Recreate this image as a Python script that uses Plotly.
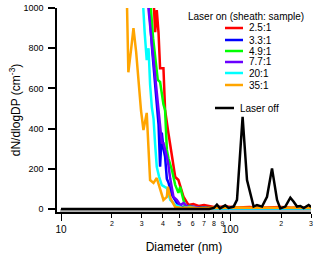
import plotly.graph_objects as go

# sheath:sample ratios, laser on
labels_on = ["2.5:1", "3.3:1", "4.9:1", "7.7:1", "20:1", "35:1"]
colors_on = ["#ff0000", "#0000ff", "#00ff00", "#6a00ff", "#00ffff", "#ffa500"]

d_red = [33.5, 35.2, 36.0, 36.8, 37.7, 38.5, 40.3, 41.2, 43.1, 45.2, 47.3, 49.4, 52.9, 56.6, 60.5, 65, 70, 80, 95, 110, 130, 150, 175, 200, 230, 260, 300]
v_red = [1800, 1050, 880, 990, 875, 700, 700, 493, 378, 259, 159, 144, 61, 20, 25, 15, 20, 10, 12, 8, 10, 6, 8, 10, 6, 8, 5]

d_blue = [31.5, 32.9, 34.5, 36.0, 36.8, 37.7, 38.5, 39.4, 40.3, 41.2, 42.2, 43.2, 45.2, 47.3, 49.2, 52, 56, 62, 70, 80, 100, 130, 170, 220, 300]
v_blue = [1800, 1050, 800, 620, 560, 420, 210, 380, 300, 260, 150, 130, 70, 45, 20, 10, 15, 5, 8, 3, 4, 3, 2, 3, 2]

d_green = [32, 33.6, 35, 36.2, 37.3, 38.5, 39.4, 40.3, 41.2, 42.2, 43.2, 45.2, 47.3, 49.4, 50.6, 52.5, 54.2, 58, 64, 72, 85, 110, 150, 200, 300]
v_green = [1800, 1050, 850, 720, 642, 632, 560, 520, 493, 294, 250, 194, 120, 80, 110, 60, 10, 15, 6, 5, 4, 3, 3, 2, 2]

d_purple = [31, 32.4, 34, 35.5, 36.8, 37.7, 38.5, 39.4, 40.3, 41.2, 42.2, 43.1, 44.2, 46.2, 48.3, 50.6, 53, 56, 60, 66, 75, 90, 120, 160, 220, 300]
v_purple = [1800, 1050, 870, 720, 600, 493, 420, 330, 328, 300, 260, 220, 150, 60, 45, 20, 30, 10, 12, 5, 4, 3, 3, 2, 2, 2]

d_cyan = [29, 30.4, 31.2, 32.1, 32.9, 33.6, 34.4, 35.2, 36.0, 36.8, 38.0, 39.4, 41.0, 42.2, 44.2, 47.3, 52, 58, 65, 80, 100, 140, 200, 300]
v_cyan = [1800, 1050, 880, 741, 800, 620, 507, 450, 320, 210, 160, 119, 110, 104, 45, 20, 5, 8, 3, 3, 2, 4, 2, 2]

d_orange = [23.5, 24.6, 25.0, 26.0, 26.8, 27.8, 28.7, 29.7, 30.7, 32.1, 33.6, 35.2, 36.8, 38.5, 40.3, 42.2, 42.8, 44.5, 47.3, 52, 58, 65, 75, 90, 110, 130, 160, 200, 250, 300]
v_orange = [1800, 1050, 680, 800, 900, 780, 640, 490, 393, 478, 144, 130, 154, 104, 45, 60, 111, 50, 10, 5, 8, 4, 6, 5, 8, 6, 7, 8, 6, 5]

# laser off
d_off = [10, 20, 40, 60, 75, 80, 83.4, 87, 93.4, 97.7, 104.7, 109.6, 118.3, 125.6, 137.4, 143.9, 154.1, 164.9, 176.5, 189, 197.6, 211.5, 226.5, 237, 248, 259.6, 271.6, 290.6, 301]
v_off = [0, 0, 0, 0, 0, 5, 22, 3, 18, 5, 12, 45, 459, 144, 12, 20, 12, 61, 202, 45, 3, 12, 56, 36, 12, 15, 5, 20, 10]

minor_vals = [20, 30, 40, 50, 60, 70, 80, 90, 200, 300]
minor_text = ["2", "3", "4", "5", "6", "7", "8", "9", "2", "3"]
major_vals = [10, 100]
major_text = ["10", "100"]
y_ticks = [0, 200, 400, 600, 800, 1000]

FONT = "Liberation Sans, Arial, sans-serif"
W, H = 320, 255
L, R, T, B = 57, 9, 8, 43

def px(x):
    return (x - L) / (W - L - R)

def py(y):
    return (H - B - y) / (H - T - B)

series_on = [(d_red, v_red), (d_blue, v_blue), (d_green, v_green),
             (d_purple, v_purple), (d_cyan, v_cyan), (d_orange, v_orange)]

fig = go.Figure()
for (d, v), name, c in zip(series_on, labels_on, colors_on):
    fig.add_trace(go.Scatter(x=d, y=v, mode="lines", name=name,
                             line=dict(color=c, width=2.5), showlegend=False))
fig.add_trace(go.Scatter(x=d_off, y=v_off, mode="lines", name="Laser off",
                         line=dict(color="black", width=2.5), showlegend=False))
# dummy trace to activate second x axis for the decade ticks
fig.add_trace(go.Scatter(x=[10], y=[None], xaxis="x2", showlegend=False, hoverinfo="skip"))

shapes = [dict(type="rect", xref="paper", yref="y", x0=px(60), x1=1, y0=-15, y1=0,
               fillcolor="#b4b4b4", line_width=0, layer="below")]
annotations = [dict(text="Laser on (sheath: sample)", xref="paper", yref="paper",
                    x=px(246), y=py(17), xanchor="center", yanchor="middle", showarrow=False,
                    font=dict(size=10, color="black"))]
row_y = [28, 40, 51, 62, 73, 85]
for name, c, yy in zip(labels_on, colors_on, row_y):
    shapes.append(dict(type="line", xref="paper", yref="paper", x0=px(225), x1=px(243),
                       y0=py(yy), y1=py(yy), line=dict(color=c, width=2.5)))
    annotations.append(dict(text=name, xref="paper", yref="paper", x=px(247), y=py(yy),
                            xanchor="left", yanchor="middle", showarrow=False,
                            font=dict(size=10, color="black")))
shapes.append(dict(type="line", xref="paper", yref="paper", x0=px(215), x1=px(234),
                   y0=py(108), y1=py(108), line=dict(color="black", width=2.5)))
annotations.append(dict(text="Laser off", xref="paper", yref="paper", x=px(238), y=py(108),
                        xanchor="left", yanchor="middle", showarrow=False,
                        font=dict(size=10, color="black")))

xr = [1 - 4 / 169, 2.4771]
fig.update_layout(
    width=W, height=H,
    margin=dict(l=L, r=R, t=T, b=B),
    paper_bgcolor="white", plot_bgcolor="white",
    font=dict(family=FONT, color="black"),
    shapes=shapes, annotations=annotations,
    xaxis=dict(type="log", range=xr, showgrid=False, zeroline=False, automargin=False,
               showline=True, linecolor="black", linewidth=1.5,
               ticks="outside", ticklen=4, tickwidth=1, tickcolor="black",
               tickvals=minor_vals, ticktext=minor_text, tickfont=dict(size=7),
               title=dict(text="Diameter (nm)", font=dict(size=12), standoff=16)),
    xaxis2=dict(type="log", range=xr, overlaying="x", side="bottom", anchor="y",
                showgrid=False, zeroline=False, showline=False, automargin=False,
                ticks="outside", ticklen=8, tickwidth=1, tickcolor="black",
                tickvals=major_vals, ticktext=major_text, tickfont=dict(size=10),
                ticklabelstandoff=0),
    yaxis=dict(range=[-15, 1000], showgrid=False, zeroline=False, automargin=False,
               showline=True, linecolor="black", linewidth=1.5,
               ticks="outside", ticklen=7, tickwidth=1.5, tickcolor="black",
               tickvals=y_ticks, tickfont=dict(size=9), ticklabelstandoff=3,
               title=dict(text="dN/dlogDP (cm<sup>-3</sup>)", font=dict(size=12), standoff=0)),
)

# drop the page's default body margin so the figure sits at the window's corner
fig.write_html("out.html", config={"displayModeBar": False},
               post_script="document.body.style.margin='0px';")
